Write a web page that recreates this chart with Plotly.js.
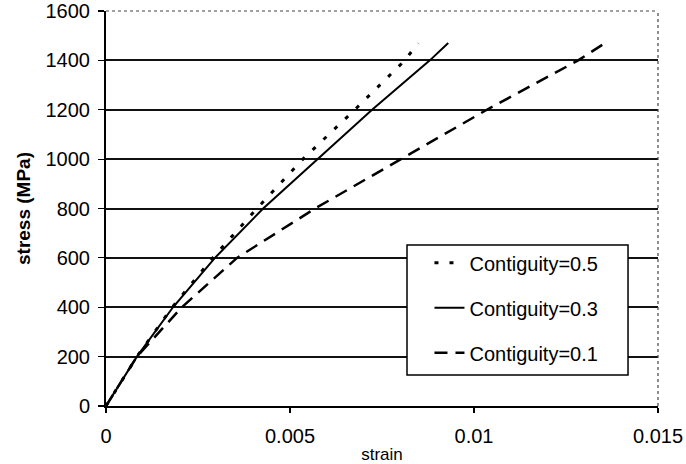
<!DOCTYPE html>
<html>
<head>
<meta charset="utf-8">
<script src="https://cdn.plot.ly/plotly-3.0.1.min.js"></script>
<style>html,body{margin:0;padding:0;background:#fff;}#chart{width:686px;height:464px;}</style>
</head>
<body>
<div id="chart"></div>
<script>
// Data
const seriesNames = ["Contiguity=0.5", "Contiguity=0.3", "Contiguity=0.1"];
const stress = [0, 200, 400, 600, 800, 1000, 1200, 1400, 1470];
const strainC05 = [0, 0.00084, 0.0018, 0.0029, 0.0041, 0.00535, 0.00676, 0.00812, 0.00848];
const strainC03 = [0, 0.00084, 0.00182, 0.00296, 0.00427, 0.00576, 0.00723, 0.0088, 0.0093];
const strainC01 = [0, 0.00084, 0.00206, 0.00356, 0.00568, 0.008, 0.01035, 0.01283, 0.01356];
const xTickVals = [0, 0.005, 0.01, 0.015];
const xTickText = ["0", "0.005", "0.01", "0.015"];
const yTickVals = [0, 200, 400, 600, 800, 1000, 1200, 1400, 1600];

const FONT = "Arial, 'Liberation Sans', sans-serif";

const traces = [
  {x: strainC05, y: stress, name: seriesNames[0], mode: "lines", legendgroup: "a",
   line: {color: "#000", width: 3, dash: "4px,11px"}},
  {x: strainC03, y: stress, name: seriesNames[1], mode: "lines", legendgroup: "b",
   line: {color: "#000", width: 2}},
  {x: strainC01, y: stress, name: seriesNames[2], mode: "lines", legendgroup: "c",
   line: {color: "#000", width: 2.5, dash: "13px,8px"}}
];

const layout = {
  width: 686, height: 464,
  margin: {l: 106, r: 28, t: 11, b: 58},
  paper_bgcolor: "#fff", plot_bgcolor: "#fff",
  font: {family: FONT, size: 20, color: "#000"},
  showlegend: true,
  legend: {
    x: 0.586, y: 0.412, xanchor: "left", yanchor: "top",
    bgcolor: "rgba(0,0,0,0)", borderwidth: 0,
    font: {family: FONT, size: 20, color: "#000"},
    traceorder: "grouped", tracegroupgap: 16
  },
  xaxis: {
    range: [0, 0.015], tickvals: xTickVals, ticktext: xTickText,
    showgrid: false, zeroline: false,
    showline: true, linecolor: "#000", linewidth: 2,
    ticks: "outside", ticklen: 5, tickcolor: "#000", tickwidth: 1.2,
    ticklabelstandoff: 6,
    tickfont: {family: FONT, size: 20},
    title: {text: "strain", font: {family: FONT, size: 17}, standoff: 8},
    automargin: false
  },
  yaxis: {
    range: [0, 1600], tickvals: yTickVals,
    showgrid: true, gridcolor: "#111", gridwidth: 2,
    zeroline: false,
    showline: true, linecolor: "#000", linewidth: 2,
    ticks: "outside", ticklen: 6, tickcolor: "#000", tickwidth: 1.2,
    ticklabelstandoff: 4,
    tickfont: {family: FONT, size: 20},
    title: {text: "<b>stress (MPa)</b>", font: {family: FONT, size: 19}, standoff: 10},
    automargin: false
  },
  shapes: [
    {type: "line", xref: "x domain", yref: "y domain", x0: 0, x1: 1, y0: 1, y1: 1,
     line: {color: "#444", width: 1.2, dash: "dot"}},
    {type: "line", xref: "x domain", yref: "y domain", x0: 1, x1: 1, y0: 0, y1: 1,
     line: {color: "#444", width: 1.2, dash: "dot"}},
    {type: "rect", xref: "x domain", yref: "y domain", layer: "above",
     x0: 0.5453, x1: 0.9457, y0: 0.0785, y1: 0.4076,
     fillcolor: "#fff", line: {color: "#000", width: 1.5}}
  ]
};

Plotly.newPlot("chart", traces, layout, {staticPlot: true, displayModeBar: false});
</script>
</body>
</html>
